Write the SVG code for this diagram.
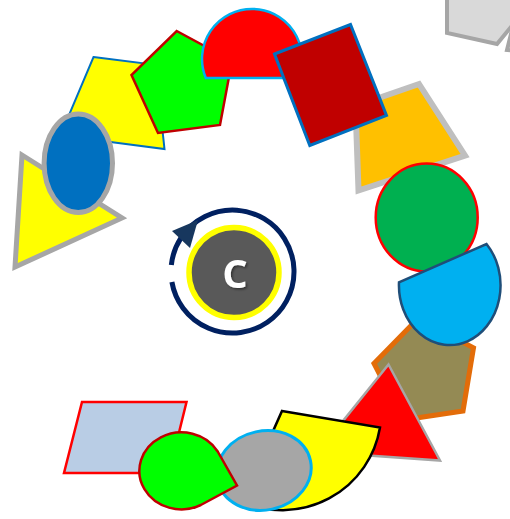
<svg xmlns="http://www.w3.org/2000/svg" width="510" height="519" viewBox="0 0 510 519">
<style>
.s2{stroke-width:2.5;stroke-linejoin:miter}
.s5{stroke-width:5;stroke-linejoin:miter}
</style>
<defs>
<filter id="sh" x="-50%" y="-50%" width="200%" height="200%"><feDropShadow dx="1.5" dy="1.5" stdDeviation="1" flood-color="#000" flood-opacity="0.45"/></filter>
</defs>
<rect width="510" height="519" fill="#fff"/>
<g id="gray-pentagon">
<polygon points="447,-30 447,33 497,44 525,10 490,-40" fill="#d9d9d9" stroke="#a6a6a6" stroke-width="4"/>
<polygon points="512,30 507,50 530,52" fill="#d9d9d9" stroke="#a6a6a6" stroke-width="4"/>
</g>
<g id="yellow-triangle"><polygon points="22,155 122,218 15,267" fill="#ffff00" stroke="#a6a6a6" class="s5"/></g>
<g id="yellow-trapezoid"><polygon points="93.5,57 155.4,64.8 164.5,149 60.4,135.4" fill="#ffff00" stroke="#0070c0" stroke-width="2"/></g>
<g id="blue-ellipse"><ellipse cx="78.3" cy="163.3" rx="34.2" ry="49.2" fill="#0070c0" stroke="#a6a6a6" class="s5"/></g>
<g id="green-pentagon"><polygon points="176.7,31 232,61 220,125 158,133 131.5,75" fill="#00ff00" stroke="#c00000" class="s2"/></g>
<g id="red-chord"><path d="M205.8 78 A50 50 0 1 1 298.2 78 Z" fill="#ff0000" stroke="#00b0f0" class="s2"/></g>
<g id="gold-trapezoid"><polygon points="355.5,106 419,84 465,155.5 358.5,190.5" fill="#ffc000" stroke="#bfbfbf" stroke-width="6"/></g>
<g id="darkred-rect"><polygon points="274.5,54 350.5,24.5 386.5,115.5 309.8,145.5" fill="#c00000" stroke="#0070c0" stroke-width="3"/></g>
<g id="olive-pentagon"><polygon points="417.9,318.5 473.5,347.8 463,411 403,420 374,363.5" fill="#948a54" stroke="#e36c09" class="s5"/></g>
<g id="green-ellipse"><ellipse cx="426.7" cy="217.5" rx="51" ry="54" fill="#00b050" stroke="#ff0000" class="s2"/></g>
<g id="blue-chord"><path d="M399 282.3 A50.8 59.8 0 1 0 486.5 244 Z" fill="#00b0f0" stroke="#1f4e79" class="s2"/></g>
<g id="red-triangle"><polygon points="388.5,364.5 440,460.5 318,452" fill="#ff0000" stroke="#a6a6a6" class="s2"/></g>
<g id="yellow-pie"><path d="M282 411 L380 427.5 A99 99 0 0 1 241.7 501.4 Z" fill="#ffff00" stroke="#000" class="s2"/></g>
<g id="gray-ellipse"><ellipse cx="264" cy="470.5" rx="47.5" ry="39.5" transform="rotate(-12 264 470.5)" fill="#a6a6a6" stroke="#00b0f0" stroke-width="3"/></g>
<g id="blue-parallelogram"><polygon points="82,402 186.5,402 169,473 64,473" fill="#b9cde5" stroke="#ff0000" class="s2"/></g>
<g id="green-teardrop"><path d="M217.7 451.5 L237 485.5 L200.8 505 A42 38.5 0 1 1 217.7 451.5 Z" fill="#00ff00" stroke="#c00000" class="s2"/></g>
<g id="center">
<path d="M171.35 265 A61.5 61.5 0 1 1 171.9 282" fill="none" stroke="#002060" stroke-width="5"/>
<polygon points="172,231 198,220 190,248" fill="#17375e"/>
<circle cx="234" cy="272.5" r="45" fill="#595959" stroke="#ffff00" stroke-width="5.5"/>
<text x="235" y="288" text-anchor="middle" font-family="'Open Sans', 'DejaVu Sans', sans-serif" font-weight="bold" font-size="40" fill="#fff" filter="url(#sh)">C</text>
</g>
</svg>
